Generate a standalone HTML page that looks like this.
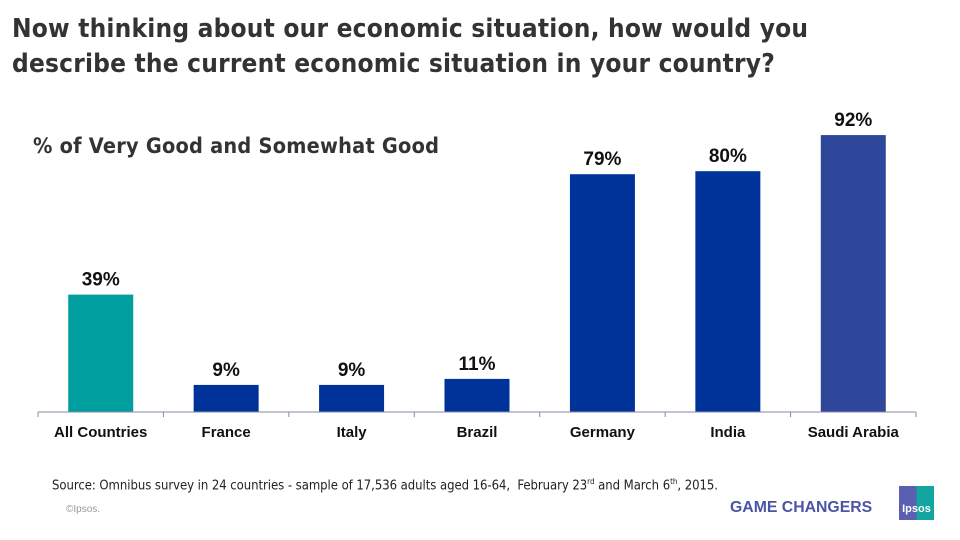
<!DOCTYPE html>
<html><head><meta charset="utf-8"><style>
body{margin:0;width:960px;height:540px;overflow:hidden;background:#fff;font-family:"Liberation Sans",Arial,sans-serif}
.t{position:absolute}
</style></head><body>
<div class="t" style="left:12px;top:12px;font-size:26px;font-weight:bold;color:#333;line-height:35px;font-family:'DejaVu Sans Condensed','Liberation Sans',sans-serif;letter-spacing:0.2px">Now thinking about our economic situation, how would you<br>describe the current economic situation in your country?</div>
<div class="t" style="left:33px;top:134px;font-size:21.5px;font-weight:bold;color:#333;font-family:'DejaVu Sans Condensed','Liberation Sans',sans-serif;letter-spacing:0.25px">% of Very Good and Somewhat Good</div>
<svg class="t" style="left:0;top:0" width="960" height="540" id="chart"></svg>
<div class="t" style="left:52px;top:477px;font-size:13px;color:#222;font-family:'DejaVu Sans Condensed','Liberation Sans',sans-serif;letter-spacing:-0.05px">Source: Omnibus survey in 24 countries - sample of 17,536 adults aged 16-64,&nbsp; February 23<sup style="font-size:8px">rd</sup> and March 6<sup style="font-size:8px">th</sup>, 2015.</div>
<div class="t" style="left:66px;top:504px;font-size:10px;color:#999">©Ipsos.</div>
<div class="t" style="left:730px;top:499px;font-size:15.8px;font-weight:bold;color:#4a55a5">GAME CHANGERS</div>
<div class="t" style="left:899px;top:486px;width:35px;height:34px;background:linear-gradient(90deg,#5a5fb0 50%,#13a5a0 50%);color:#fff;font-size:11px;font-weight:bold;text-align:center;line-height:46px">Ipsos</div>
<script>
const categories=["All Countries","France","Italy","Brazil","Germany","India","Saudi Arabia"];
const values=[39,9,9,11,79,80,92];
const colors=["#009e9e","#003399","#003399","#003399","#003399","#003399","#2e479a"];
const svg=document.getElementById('chart');
const NS='http://www.w3.org/2000/svg';
const x0=38,x1=916,base=412,scale=3.01,bw=65;
const step=(x1-x0)/categories.length;
const y=v=>base-v*scale;
function mk(t,a){const e=document.createElementNS(NS,t);for(const k in a)e.setAttribute(k,a[k]);svg.appendChild(e);return e;}
categories.forEach((c,i)=>{
 const cx=x0+step*(i+0.5);
 const r=mk('rect',{x:cx-bw/2,y:y(values[i]),width:bw,height:base-y(values[i]),fill:colors[i]});
 
 
 const l=mk('text',{x:cx,y:y(values[i])-9,'text-anchor':'middle','font-size':19,'font-weight':'bold',fill:'#111','font-family':'Liberation Sans, sans-serif'});
 l.textContent=values[i]+'%';
 
 
 const t=mk('text',{x:cx,y:437,'text-anchor':'middle','font-size':15,'font-weight':'bold',fill:'#111','font-family':'Liberation Sans, sans-serif'});
 t.textContent=c;
 
 
});
const ax=mk('line',{x1:x0,x2:x1,y1:base,y2:base,stroke:'#8a8aa0','stroke-width':1});


for(let i=0;i<=categories.length;i++){
 const xx=x0+step*i;
 const tk=mk('line',{x1:xx,x2:xx,y1:base,y2:base+5,stroke:'#8a8aa0'});
 
 
}
</script>
</body></html>
